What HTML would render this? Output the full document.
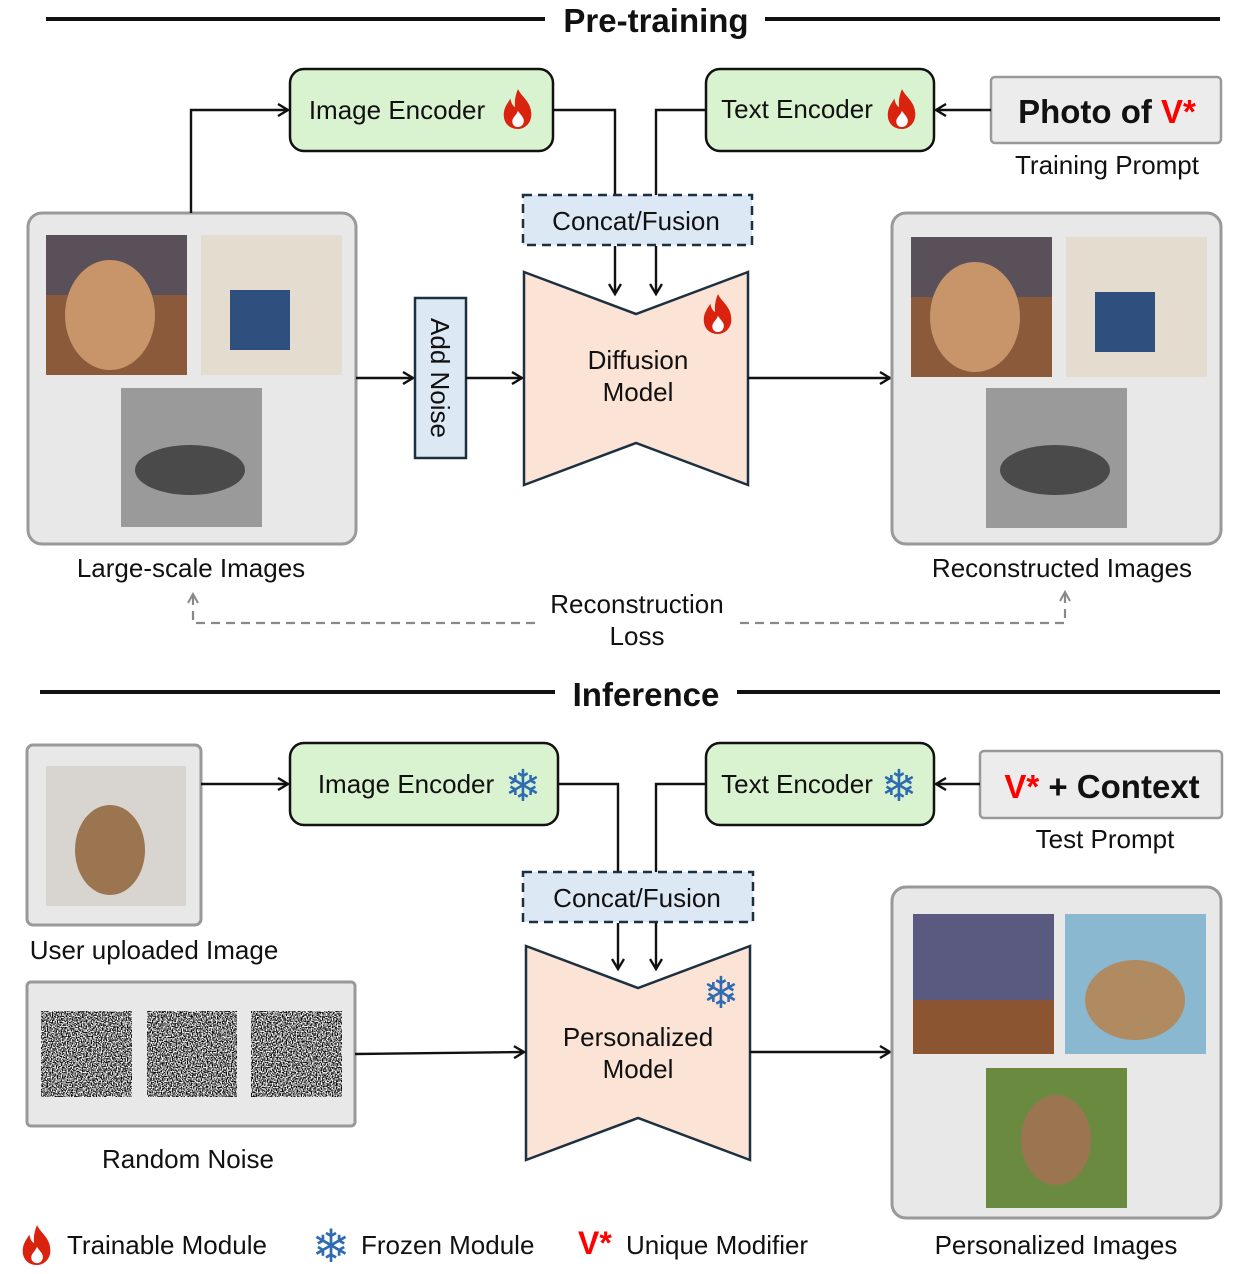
<!DOCTYPE html>
<html><head><meta charset="utf-8"><style>
html,body{margin:0;padding:0;background:#fff}
svg{display:block}
text{font-family:"Liberation Sans","DejaVu Sans",sans-serif;fill:#111}
</style></head><body>
<svg width="1246" height="1274" viewBox="0 0 1246 1274" xmlns="http://www.w3.org/2000/svg">
<defs>
<marker id="ar" markerWidth="14" markerHeight="14" refX="11" refY="7" orient="auto" markerUnits="userSpaceOnUse">
<path d="M1,1 L11,7 L1,13" fill="none" stroke="#111" stroke-width="2.4"/></marker>
<marker id="ag" markerWidth="12" markerHeight="12" refX="10" refY="6" orient="auto" markerUnits="userSpaceOnUse">
<path d="M1,1 L10,6 L1,11" fill="none" stroke="#888" stroke-width="2"/></marker>
<symbol id="fl" viewBox="0 0 40 44">
<path d="M20,1 C24,10 34,14 34,28 C34,37 27,43 20,43 C11,43 5,37 5,28 C5,20 10,15 12,11 C13,17 15,19 17,20 C16,12 18,6 20,1 Z" fill="#d9230f"/>
<path d="M20,24 C23,29 27,31 26,36 C25,40 22,41 20,41 C17,41 14,39 14,35 C14,31 18,29 20,24 Z" fill="#fff"/>
</symbol>
<filter id="nz" x="0" y="0" width="1" height="1" color-interpolation-filters="sRGB">
<feTurbulence type="fractalNoise" baseFrequency="0.8" numOctaves="1" seed="3"/>
<feColorMatrix type="matrix" values="1 0 0 0 0  1 0 0 0 0  1 0 0 0 0  0 0 0 0 1"/>
<feComponentTransfer><feFuncR type="linear" slope="4" intercept="-1.5"/><feFuncG type="linear" slope="4" intercept="-1.5"/><feFuncB type="linear" slope="4" intercept="-1.5"/></feComponentTransfer>
</filter>
</defs>

<!-- Pre-training header -->
<line x1="46" y1="19" x2="545" y2="19" stroke="#111" stroke-width="4"/>
<line x1="765" y1="19" x2="1220" y2="19" stroke="#111" stroke-width="4"/>
<text x="656" y="32" font-size="33" font-weight="bold" text-anchor="middle">Pre-training</text>

<!-- encoders -->
<rect x="290" y="69" width="263" height="82" rx="14" fill="#d9f2d0" stroke="#111" stroke-width="2.5"/>
<text x="397" y="119" font-size="26" text-anchor="middle">Image Encoder</text>
<use href="#fl" x="499" y="88" width="38" height="42"/>
<rect x="706" y="69" width="228" height="82" rx="14" fill="#d9f2d0" stroke="#111" stroke-width="2.5"/>
<text x="797" y="118" font-size="26" text-anchor="middle">Text Encoder</text>
<use href="#fl" x="883" y="88" width="38" height="42"/>

<rect x="991" y="77" width="230" height="66" rx="4" fill="#ececec" stroke="#999" stroke-width="2.5"/>
<text x="1107" y="123" font-size="33" font-weight="bold" text-anchor="middle">Photo of <tspan fill="#f00" style="fill:#f00">V*</tspan></text>
<text x="1107" y="174" font-size="26" text-anchor="middle">Training Prompt</text>
<line x1="991" y1="110" x2="936" y2="110" stroke="#111" stroke-width="2.4" marker-end="url(#ar)"/>

<polyline points="553,110 615,110 615,196" fill="none" stroke="#111" stroke-width="2.4"/>
<polyline points="706,110 656,110 656,196" fill="none" stroke="#111" stroke-width="2.4"/>
<rect x="523" y="195" width="229" height="50" fill="#dde8f5" stroke="#1d3040" stroke-width="2.5" stroke-dasharray="9,6"/>
<text x="636" y="230" font-size="26" text-anchor="middle">Concat/Fusion</text>
<line x1="615" y1="246" x2="615" y2="294" stroke="#111" stroke-width="2.4" marker-end="url(#ar)"/>
<line x1="656" y1="246" x2="656" y2="294" stroke="#111" stroke-width="2.4" marker-end="url(#ar)"/>

<polygon points="524,272 636,314 748,272 748,485 636,443 524,485" fill="#fbe3d6" stroke="#1d3040" stroke-width="2.5"/>
<text x="638" y="369" font-size="26" text-anchor="middle">Diffusion</text>
<text x="638" y="401" font-size="26" text-anchor="middle">Model</text>
<use href="#fl" x="699" y="293" width="38" height="42"/>

<!-- large-scale images -->
<rect x="28" y="213" width="328" height="331" rx="14" fill="#e8e8e8" stroke="#999" stroke-width="3"/>
<rect x="46" y="235" width="141" height="140" fill="#8a5a3a"/>
<rect x="46" y="235" width="141" height="60" fill="#3a4a70" opacity="0.6"/>
<ellipse cx="110" cy="315" rx="45" ry="55" fill="#c8956a"/>
<rect x="201" y="235" width="141" height="140" fill="#e4ddcf"/>
<rect x="230" y="290" width="60" height="60" fill="#2f4f7f"/>
<rect x="121" y="388" width="141" height="139" fill="#9a9a9a"/>
<ellipse cx="190" cy="470" rx="55" ry="25" fill="#4a4a4a"/>
<polyline points="191,213 191,110 288,110" fill="none" stroke="#111" stroke-width="2.4" marker-end="url(#ar)"/>
<text x="191" y="577" font-size="26" text-anchor="middle">Large-scale Images</text>

<line x1="356" y1="378" x2="413" y2="378" stroke="#111" stroke-width="2.4" marker-end="url(#ar)"/>
<rect x="415" y="298" width="51" height="160" fill="#dde8f5" stroke="#1d3040" stroke-width="2.5"/>
<text x="440" y="378" font-size="26" text-anchor="middle" transform="rotate(90 440 378)" dy="9">Add Noise</text>
<line x1="466" y1="378" x2="522" y2="378" stroke="#111" stroke-width="2.4" marker-end="url(#ar)"/>
<line x1="748" y1="378" x2="890" y2="378" stroke="#111" stroke-width="2.4" marker-end="url(#ar)"/>

<!-- reconstructed -->
<rect x="892" y="213" width="329" height="331" rx="14" fill="#e8e8e8" stroke="#999" stroke-width="3"/>
<rect x="911" y="237" width="141" height="140" fill="#8a5a3a"/>
<rect x="911" y="237" width="141" height="60" fill="#3a4a70" opacity="0.6"/>
<ellipse cx="975" cy="317" rx="45" ry="55" fill="#c8956a"/>
<rect x="1066" y="237" width="141" height="140" fill="#e4ddcf"/>
<rect x="1095" y="292" width="60" height="60" fill="#2f4f7f"/>
<rect x="986" y="388" width="141" height="140" fill="#9a9a9a"/>
<ellipse cx="1055" cy="470" rx="55" ry="25" fill="#4a4a4a"/>
<text x="1062" y="577" font-size="26" text-anchor="middle">Reconstructed Images</text>

<!-- loss -->
<polyline points="535,623 193,623 193,594" fill="none" stroke="#888" stroke-width="2.2" stroke-dasharray="9,6" marker-end="url(#ag)"/>
<polyline points="740,623 1065,623 1065,592" fill="none" stroke="#888" stroke-width="2.2" stroke-dasharray="9,6" marker-end="url(#ag)"/>
<text x="637" y="613" font-size="26" text-anchor="middle">Reconstruction</text>
<text x="637" y="645" font-size="26" text-anchor="middle">Loss</text>

<!-- Inference -->
<line x1="40" y1="692" x2="555" y2="692" stroke="#111" stroke-width="4"/>
<line x1="737" y1="692" x2="1220" y2="692" stroke="#111" stroke-width="4"/>
<text x="646" y="706" font-size="33" font-weight="bold" text-anchor="middle">Inference</text>

<rect x="27" y="745" width="174" height="180" rx="6" fill="#e8e8e8" stroke="#999" stroke-width="3"/>
<rect x="46" y="766" width="140" height="140" fill="#d8d4cf"/>
<ellipse cx="110" cy="850" rx="35" ry="45" fill="#9a7550"/>
<line x1="201" y1="784" x2="288" y2="784" stroke="#111" stroke-width="2.4" marker-end="url(#ar)"/>
<text x="154" y="959" font-size="26" text-anchor="middle">User uploaded Image</text>

<rect x="290" y="743" width="268" height="82" rx="14" fill="#d9f2d0" stroke="#111" stroke-width="2.5"/>
<text x="406" y="793" font-size="26" text-anchor="middle">Image Encoder</text>
<text x="523" y="801" font-size="44" text-anchor="middle" style="fill:#2e6bb0">❄</text>
<rect x="706" y="743" width="228" height="82" rx="14" fill="#d9f2d0" stroke="#111" stroke-width="2.5"/>
<text x="797" y="793" font-size="26" text-anchor="middle">Text Encoder</text>
<text x="899" y="801" font-size="44" text-anchor="middle" style="fill:#2e6bb0">❄</text>

<rect x="980" y="751" width="242" height="67" rx="4" fill="#ececec" stroke="#999" stroke-width="2.5"/>
<text x="1102" y="798" font-size="33" font-weight="bold" text-anchor="middle"><tspan style="fill:#f00">V*</tspan> + Context</text>
<text x="1105" y="848" font-size="26" text-anchor="middle">Test Prompt</text>
<line x1="980" y1="784" x2="936" y2="784" stroke="#111" stroke-width="2.4" marker-end="url(#ar)"/>

<polyline points="558,784 618,784 618,873" fill="none" stroke="#111" stroke-width="2.4"/>
<polyline points="706,784 656,784 656,873" fill="none" stroke="#111" stroke-width="2.4"/>
<rect x="523" y="872" width="230" height="50" fill="#dde8f5" stroke="#1d3040" stroke-width="2.5" stroke-dasharray="9,6"/>
<text x="637" y="907" font-size="26" text-anchor="middle">Concat/Fusion</text>
<line x1="618" y1="923" x2="618" y2="969" stroke="#111" stroke-width="2.4" marker-end="url(#ar)"/>
<line x1="656" y1="923" x2="656" y2="969" stroke="#111" stroke-width="2.4" marker-end="url(#ar)"/>

<polygon points="526,946 638,988 750,946 750,1160 638,1118 526,1160" fill="#fbe3d6" stroke="#1d3040" stroke-width="2.5"/>
<text x="638" y="1046" font-size="26" text-anchor="middle">Personalized</text>
<text x="638" y="1078" font-size="26" text-anchor="middle">Model</text>
<text x="721" y="1008" font-size="44" text-anchor="middle" style="fill:#2e6bb0">❄</text>

<!-- noise -->
<rect x="27" y="982" width="328" height="144" rx="4" fill="#e8e8e8" stroke="#999" stroke-width="3"/>
<rect x="41" y="1011" width="91" height="86" fill="#777" filter="url(#nz)"/>
<rect x="147" y="1011" width="90" height="86" fill="#777" filter="url(#nz)"/>
<rect x="251" y="1011" width="91" height="86" fill="#777" filter="url(#nz)"/>
<text x="188" y="1168" font-size="26" text-anchor="middle">Random Noise</text>
<line x1="355" y1="1054" x2="524" y2="1052" stroke="#111" stroke-width="2.4" marker-end="url(#ar)"/>
<line x1="750" y1="1052" x2="890" y2="1052" stroke="#111" stroke-width="2.4" marker-end="url(#ar)"/>

<!-- personalized images -->
<rect x="892" y="887" width="329" height="331" rx="14" fill="#e8e8e8" stroke="#999" stroke-width="3"/>
<rect x="913" y="914" width="141" height="140" fill="#5a5a80"/>
<rect x="913" y="1000" width="141" height="54" fill="#8a5530"/>
<rect x="1065" y="914" width="141" height="140" fill="#8ab8d0"/>
<ellipse cx="1135" cy="1000" rx="50" ry="40" fill="#b08a60"/>
<rect x="986" y="1068" width="141" height="140" fill="#6a8a40"/>
<ellipse cx="1056" cy="1140" rx="35" ry="45" fill="#9a7550"/>
<text x="1056" y="1254" font-size="26" text-anchor="middle">Personalized Images</text>

<!-- legend -->
<use href="#fl" x="17" y="1224" width="40" height="42"/>
<text x="67" y="1254" font-size="26">Trainable Module</text>
<text x="331" y="1262" font-size="46" text-anchor="middle" style="fill:#2e6bb0">❄</text>
<text x="361" y="1254" font-size="26">Frozen Module</text>
<text x="578" y="1254" font-size="32" font-weight="bold" style="fill:#f00">V*</text>
<text x="626" y="1254" font-size="26">Unique Modifier</text>
</svg>
</body></html>
